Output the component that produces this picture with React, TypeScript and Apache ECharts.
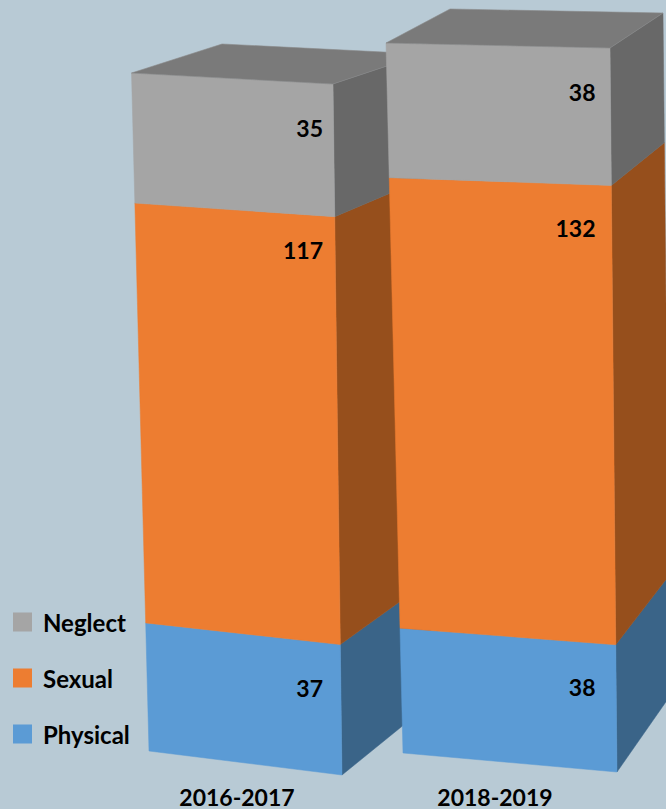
import React, { useEffect, useRef } from "react";
import * as echarts from "echarts";

const categories = ["2016-2017", "2018-2019"];
const physical = [37, 38];
const sexual = [117, 132];
const neglect = [35, 38];

type P = [number, number];

// Perspective of each box on the page (not data): the box's corners, t = 0 at the base, t = 1 at its top.
const frames: { bl: P; br: P; tr: P; tl: P; backBr: P; backTr: P; backTl: P; labelX: number }[] = [
  { bl: [149, 751], br: [342, 775], tr: [333, 84], tl: [131.5, 73], backBr: [432, 702], backTr: [423, 54], backTl: [222, 44], labelX: 323 },
  { bl: [403, 753], br: [617, 772], tr: [610, 48], tl: [386, 43], backBr: [670, 696], backTr: [663, 13], backTl: [450, 9], labelX: 595.5 },
];
const labelDrop: Record<string, number[]> = {
  Neglect: [44, 44],
  Sexual: [33, 43],
  Physical: [43, 42],
};

const FONT = "Lato, 'Open Sans', sans-serif";
const TOP_COLOR = "#7a7a7a";

// Projective map of the unit square onto a quad.
function projector(p00: P, p10: P, p11: P, p01: P) {
  const dx1 = p10[0] - p11[0], dx2 = p01[0] - p11[0], sx = p00[0] - p10[0] + p11[0] - p01[0];
  const dy1 = p10[1] - p11[1], dy2 = p01[1] - p11[1], sy = p00[1] - p10[1] + p11[1] - p01[1];
  const den = dx1 * dy2 - dx2 * dy1;
  const g = (sx * dy2 - dx2 * sy) / den;
  const h = (dx1 * sy - sx * dy1) / den;
  const a = p10[0] - p00[0] + g * p10[0], b = p01[0] - p00[0] + h * p01[0], c = p00[0];
  const d = p10[1] - p00[1] + g * p10[1], e = p01[1] - p00[1] + h * p01[1], f = p00[1];
  return (u: number, v: number): P => {
    const w = g * u + h * v + 1;
    return [(a * u + b * v + c) / w, (d * u + e * v + f) / w];
  };
}

function makeSeries(name: string, values: number[], below: number[], face: string, side: string, isTop: boolean) {
  return {
    type: "custom",
    name,
    silent: true,
    itemStyle: { color: face },
    encode: { x: 0, y: 2 },
    data: values.map((v, i) => [i, below[i], below[i] + v, v]),
    renderItem: (_params: any, api: any) => {
      const i = api.value(0) as number;
      const lo = api.value(1) as number;
      const hi = api.value(2) as number;
      const val = api.value(3) as number;
      const fr = frames[i];
      const total = physical[i] + sexual[i] + neglect[i];
      const base = api.coord([i, 0])[1];
      const full = api.coord([i, total])[1];
      const tOf = (x: number) => (base - api.coord([i, x])[1]) / (base - full);
      const front = projector(fr.bl, fr.br, fr.tr, fr.tl);
      // The back edge shares the front edge's foreshortening.
      const back = (t: number): P => {
        const f = (front(1, t)[1] - fr.br[1]) / (fr.tr[1] - fr.br[1]);
        return [fr.backBr[0] + (fr.backTr[0] - fr.backBr[0]) * f, fr.backBr[1] + (fr.backTr[1] - fr.backBr[1]) * f];
      };
      const t0 = tOf(lo), t1 = tOf(hi);
      const z2 = i * 10;
      const children: any[] = [
        {
          type: "polygon", z2: z2 + 1,
          shape: { points: [back(t0), back(t1), front(1, t1), front(1, t0)] },
          style: { fill: side, stroke: side, lineWidth: 0.5 },
        },
        {
          type: "polygon", z2: z2 + 2,
          shape: { points: [front(0, t0), front(1, t0), front(1, t1), front(0, t1)] },
          style: { fill: face, stroke: face, lineWidth: 0.5 },
        },
      ];
      if (isTop) {
        children.push({
          type: "polygon", z2: z2 + 3,
          shape: { points: [fr.tl, fr.tr, fr.backTr, fr.backTl] },
          style: { fill: TOP_COLOR, stroke: "#8a8a8a", lineWidth: 0.6 },
        });
      }
      const topRight = front(1, t1);
      children.push({
        type: "text", z2: z2 + 5,
        style: {
          text: String(val), x: fr.labelX, y: topRight[1] + labelDrop[name][i],
          textAlign: "right", textVerticalAlign: "middle",
          fill: "#000", font: `bold 23px ${FONT}`,
        },
      });
      return { type: "group", children };
    },
  };
}

export default function App() {
  const ref = useRef<HTMLDivElement>(null);
  useEffect(() => {
    const chart = echarts.init(ref.current!, undefined, { renderer: "svg" });
    const belowSexual = physical;
    const belowNeglect = physical.map((p, i) => p + sexual[i]);
    chart.setOption({
      animation: false,
      backgroundColor: "#b8cad5",
      grid: { left: 108, width: 516, top: 10, height: 770 },
      legend: {
        orient: "vertical", left: 13, top: 610, padding: 0, itemGap: 32,
        itemWidth: 19, itemHeight: 19, icon: "rect", selectedMode: false,
        data: ["Neglect", "Sexual", "Physical"],
        textStyle: { fontFamily: FONT, fontWeight: "bold", fontSize: 24, color: "#000", padding: [0, 0, 0, 6] },
      },
      xAxis: {
        type: "category", data: categories,
        axisLine: { show: false }, axisTick: { show: false },
        axisLabel: { fontFamily: FONT, fontWeight: "bold", fontSize: 23, lineHeight: 23, color: "#000", margin: 5 },
      },
      yAxis: { type: "value", min: 0, max: 220, show: false },
      series: [
        makeSeries("Physical", physical, [0, 0], "#5b9bd5", "#3a6488", false),
        makeSeries("Sexual", sexual, belowSexual, "#ed7d31", "#964f1c", false),
        makeSeries("Neglect", neglect, belowNeglect, "#a5a5a5", "#686868", true),
      ],
    });
    return () => chart.dispose();
  }, []);
  return <div ref={ref} style={{ position: "fixed", left: 0, top: 0, width: 666, height: 809 }} />;
}
